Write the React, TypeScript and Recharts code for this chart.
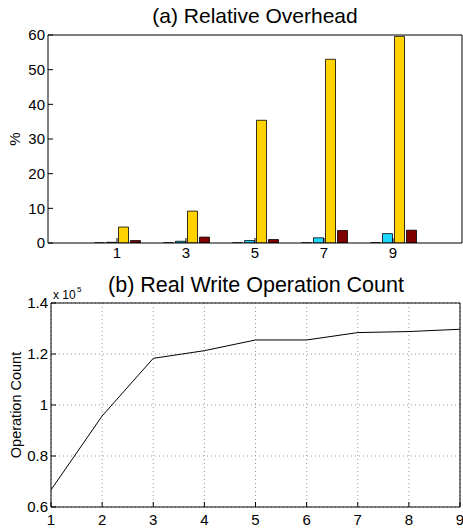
import React from 'react';
import { BarChart, Bar, XAxis, YAxis, LineChart, Line, CartesianGrid, Label } from 'recharts';

const FONT = '"Liberation Sans", Arial, Helvetica, sans-serif';

// (a) Relative Overhead
const groupPositions = [1, 3, 5, 7, 9];
const seriesBlue = [0.03, 0.05, 0.05, 0.05, 0.06];
const seriesCyan = [0.2, 0.5, 0.7, 1.5, 2.7];
const seriesYellow = [4.6, 9.2, 35.4, 53.0, 59.6];
const seriesRed = [0.7, 1.7, 1.0, 3.6, 3.7];
const overheadTicks = [0, 10, 20, 30, 40, 50, 60];

// (b) Real Write Operation Count
const nodeCounts = [1, 2, 3, 4, 5, 6, 7, 8, 9];
const writeCounts = [66700, 95700, 118300, 121300, 125500, 125500, 128400, 128800, 129700];
const countTicks = [60000, 80000, 100000, 120000, 140000];

const overheadData = groupPositions.map((x, i) => ({
  x,
  blue: seriesBlue[i],
  cyan: seriesCyan[i],
  yellow: seriesYellow[i],
  red: seriesRed[i],
}));

const countData = nodeCounts.map((x, i) => ({ x, count: writeCounts[i] }));

const tickStyle = { fill: '#000', fontSize: 15, fontFamily: FONT };

export default function App() {
  return (
    <div style={{ position: 'absolute', left: 0, top: 0, width: 463, height: 529, background: '#fff' }}>
      <div style={{ position: 'absolute', left: 0, top: 0 }}>
        <BarChart
          width={463}
          height={262}
          data={overheadData}
          margin={{ top: 34, right: 0, bottom: 0, left: 0 }}
          barSize={10}
          barGap={2}
        >
          <XAxis
            dataKey="x"
            type="number"
            domain={[-1, 11]}
            ticks={groupPositions}
            interval={0}
            height={19}
            tickSize={-5}
            tickMargin={9}
            stroke="#000"
            tick={tickStyle}
            allowDataOverflow
          />
          <XAxis
            xAxisId="t"
            orientation="top"
            dataKey="x"
            type="number"
            domain={[-1, 11]}
            ticks={groupPositions}
            interval={0}
            height={1}
            tickSize={-5}
            tick={false}
            stroke="#000"
            allowDataOverflow
          />
          <YAxis
            domain={[0, 60]}
            ticks={overheadTicks}
            interval={0}
            width={48}
            tickSize={-5}
            tickMargin={8}
            stroke="#000"
            tick={tickStyle}
            allowDataOverflow
          >
            <Label value="%" angle={-90} position="center" dx={-9} style={{ fontSize: 15, fontFamily: FONT, fill: '#000' }} />
          </YAxis>
          <YAxis
            yAxisId="r"
            orientation="right"
            domain={[0, 60]}
            ticks={overheadTicks}
            interval={0}
            width={1}
            tickSize={-5}
            tick={false}
            stroke="#000"
            allowDataOverflow
          />
          <Bar dataKey="blue" fill="#00008f" stroke="#000" strokeWidth={0.8} isAnimationActive={false} />
          <Bar dataKey="cyan" fill="#1ed8ff" stroke="#000" strokeWidth={0.8} isAnimationActive={false} />
          <Bar dataKey="yellow" fill="#ffd200" stroke="#000" strokeWidth={0.8} isAnimationActive={false} />
          <Bar dataKey="red" fill="#800000" stroke="#000" strokeWidth={0.8} isAnimationActive={false} />
        </BarChart>
      </div>
      <div style={{ position: 'absolute', left: 0, top: 262 }}>
        <LineChart
          width={463}
          height={267}
          data={countData}
          margin={{ top: 40, right: 2, bottom: 0, left: 0 }}
        >
          <CartesianGrid stroke="#999" strokeDasharray="1 3" />
          <XAxis
            dataKey="x"
            type="number"
            domain={[1, 9]}
            ticks={nodeCounts}
            interval={0}
            height={22}
            tickSize={-5}
            tickMargin={12}
            stroke="#000"
            tick={tickStyle}
            allowDataOverflow
          />
          <XAxis
            xAxisId="t"
            orientation="top"
            dataKey="x"
            type="number"
            domain={[1, 9]}
            ticks={nodeCounts}
            interval={0}
            height={1}
            tickSize={-5}
            tick={false}
            stroke="#000"
            allowDataOverflow
          />
          <YAxis
            domain={[60000, 140000]}
            ticks={countTicks}
            interval={0}
            width={51}
            tickSize={-5}
            tickMargin={8}
            stroke="#000"
            tick={tickStyle}
            tickFormatter={(v: number) => String(parseFloat((v / 100000).toFixed(1)))}
            allowDataOverflow
          >
            <Label value="Operation Count" angle={-90} position="center" dx={-10} style={{ fontSize: 14.5, fontFamily: FONT, fill: '#000' }} />
          </YAxis>
          <YAxis
            yAxisId="r"
            orientation="right"
            domain={[60000, 140000]}
            ticks={countTicks}
            interval={0}
            width={1}
            tickSize={-5}
            tick={false}
            stroke="#000"
            allowDataOverflow
          />
          <Line dataKey="count" stroke="#000" strokeWidth={1} dot={false} isAnimationActive={false} />
        </LineChart>
      </div>
      <svg width={463} height={529} style={{ position: 'absolute', left: 0, top: 0, pointerEvents: 'none' }}>
        <text x={255} y={23} textAnchor="middle" fontSize={21} fontFamily={FONT} fill="#000">(a) Relative Overhead</text>
        <text x={256} y={292} textAnchor="middle" fontSize={21.5} fontFamily={FONT} fill="#000">(b) Real Write Operation Count</text>
        <text x={53} y={299} fontSize={12} fontFamily={FONT} fill="#000">x 10</text>
        <text x={77} y={292} fontSize={8} fontFamily={FONT} fill="#000">5</text>
      </svg>
    </div>
  );
}
